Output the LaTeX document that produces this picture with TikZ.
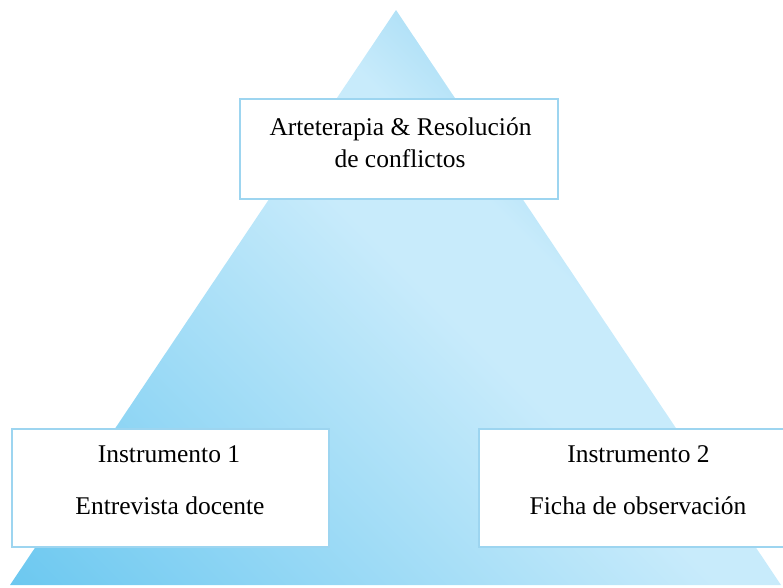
\documentclass[tikz,border=0pt]{standalone}
\usepackage{fontspec}
\setmainfont{Liberation Serif}
\definecolor{cA}{HTML}{6CC8F0}
\definecolor{cB}{HTML}{C8EBFB}
\definecolor{cC}{HTML}{A6DCF5}
\definecolor{boxc}{HTML}{9DD5F0}
\pgfdeclarehorizontalshading{trishade}{100bp}{color(0bp)=(cA); color(14.6bp)=(cA); color(52bp)=(cB); color(60bp)=(cB); color(68bp)=(cC); color(100bp)=(cC)}
\begin{document}
\begin{tikzpicture}[x=1pt,y=-1pt,
  box/.style={draw=boxc, line width=1.5pt, fill=white, inner sep=0pt},
  txt/.style={font=\fontsize{25.5}{31}\selectfont, anchor=base, inner sep=0pt}]
\useasboundingbox (0,0) rectangle (783,587);
\coordinate (apex) at (396,10);
\coordinate (bl) at (10,585);
\coordinate (br) at (781,585);
\shade[shading=trishade, shading angle=45] (apex) -- (br) -- (bl) -- cycle;
\node[box, minimum width=318pt, minimum height=100pt] (topbox) at (399,149) {};
\node[box, minimum width=317pt, minimum height=118pt] (leftbox) at (170.5,488) {};
\node[box, minimum width=311pt, minimum height=118pt] (rightbox) at (634.5,488) {};
\node[txt] (t1) at (400.5,135) {Arteterapia \& Resolución};
\node[txt] (t2) at (400,167) {de conflictos};
\node[txt] (l1) at (169,462) {Instrumento 1};
\node[txt] (l2) at (170,514) {Entrevista docente};
\node[txt] (r1) at (638.5,462) {Instrumento 2};
\node[txt] (r2) at (638,514) {Ficha de observación};
\end{tikzpicture}
\end{document}
